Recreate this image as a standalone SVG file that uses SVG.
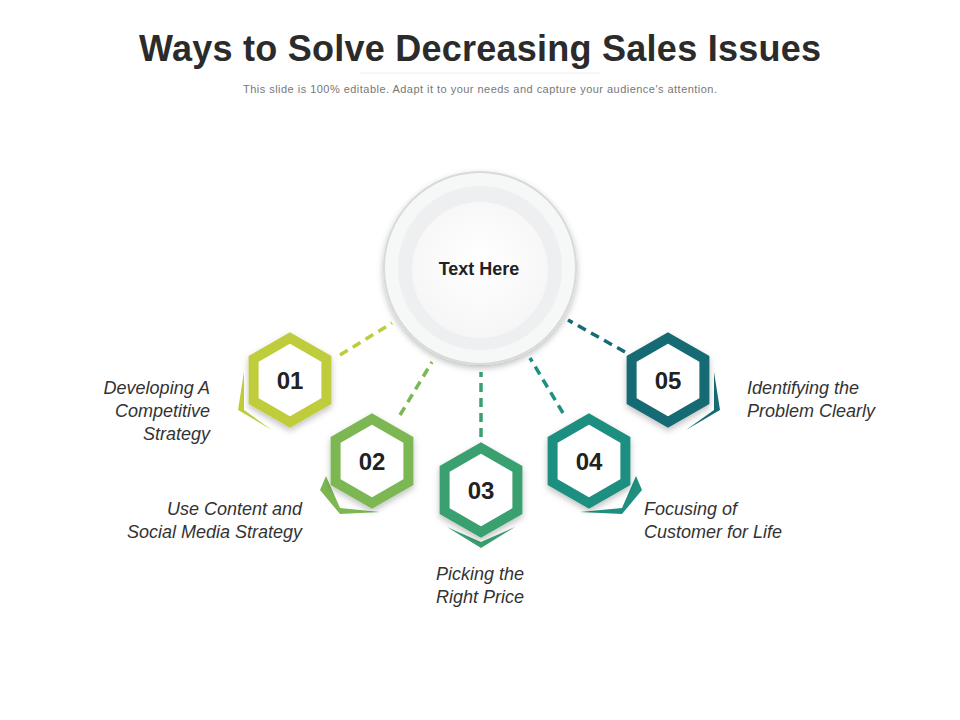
<svg xmlns="http://www.w3.org/2000/svg" width="960" height="720" viewBox="0 0 960 720">
<defs>
<style>
.t{font-family:"Liberation Sans",Arial,sans-serif}
.num{font-family:"Liberation Sans",Arial,sans-serif;font-weight:bold;font-size:24px;fill:#222;text-anchor:middle}
.lab{font-family:"Liberation Sans",Arial,sans-serif;font-style:italic;font-size:18px;fill:#333}
.dash{stroke-width:3.5;stroke-dasharray:9 6;fill:none}
.hex{fill:#fff;stroke-width:10;stroke-linejoin:miter}
</style>
<radialGradient id="cg" cx="0.5" cy="0.45" r="0.55"><stop offset="0" stop-color="#ffffff"/><stop offset="1" stop-color="#f6f6f7"/></radialGradient>
<filter id="sh" x="-30%" y="-30%" width="160%" height="160%"><feDropShadow dx="0" dy="3" stdDeviation="3" flood-opacity="0.25"/></filter>
<polygon id="h" points="0,-42 36.4,-21 36.4,21 0,42 -36.4,21 -36.4,-21"/>
</defs>
<rect width="960" height="720" fill="#fff"/>
<text class="t" x="480" y="61" text-anchor="middle" font-size="36" font-weight="bold" fill="#2b2b2b" textLength="682">Ways to Solve Decreasing Sales Issues</text>
<line x1="360" y1="73" x2="600" y2="73" stroke="#eee" stroke-width="1"/>
<text class="t" x="480" y="93" text-anchor="middle" font-size="11" fill="#777" textLength="474">This slide is 100% editable. Adapt it to your needs and capture your audience's attention.</text>
<g id="connectors">
<line class="dash" x1="340" y1="355" x2="392" y2="323" stroke="#bfcc3a"/>
<line class="dash" x1="400" y1="415" x2="432" y2="362" stroke="#7cb752"/>
<line class="dash" x1="481" y1="437" x2="481" y2="372" stroke="#3aa070"/>
<line class="dash" x1="563" y1="413" x2="530" y2="358" stroke="#1e8f80"/>
<line class="dash" x1="625" y1="352" x2="568" y2="320" stroke="#156a73"/>
</g>
<g id="center">
<circle cx="480" cy="268" r="96" fill="#f6f7f7" stroke="#d8dada" stroke-width="2" filter="url(#sh)"/>
<circle cx="480" cy="268" r="82" fill="#eeeff0"/>
<circle cx="480" cy="270" r="68" fill="url(#cg)"/>
<text class="t" x="479" y="275" text-anchor="middle" font-size="18" font-weight="bold" fill="#222">Text Here</text>
</g>
<g id="n1">
<polygon points="244,372 238,410 272,430 244,410" fill="#bfcc3a"/>
<use href="#h" x="290" y="380" class="hex" stroke="#bfcc3a" filter="url(#sh)"/>
<text class="num" x="290" y="389">01</text>
<text class="lab" x="210" y="394" text-anchor="end">Developing A</text>
<text class="lab" x="210" y="417" text-anchor="end">Competitive</text>
<text class="lab" x="210" y="440" text-anchor="end">Strategy</text>
</g>
<g id="n2">
<polygon points="326,476 320,490 340,514 380,512 340,508" fill="#7cb752"/>
<use href="#h" x="372" y="461" class="hex" stroke="#7cb752" filter="url(#sh)"/>
<text class="num" x="372" y="470">02</text>
<text class="lab" x="302" y="515" text-anchor="end">Use Content and</text>
<text class="lab" x="302" y="538" text-anchor="end">Social Media Strategy</text>
</g>
<g id="n3">
<polygon points="447,527 481,548 515,527 481,542" fill="#3aa070"/>
<use href="#h" x="481" y="490" class="hex" stroke="#3aa070" filter="url(#sh)"/>
<text class="num" x="481" y="499">03</text>
<text class="lab" x="480" y="580" text-anchor="middle">Picking the</text>
<text class="lab" x="480" y="603" text-anchor="middle">Right Price</text>
</g>
<g id="n4">
<polygon points="636,476 642,490 622,514 580,512 622,508" fill="#1e8f80"/>
<use href="#h" x="589" y="461" class="hex" stroke="#1e8f80" filter="url(#sh)"/>
<text class="num" x="589" y="470">04</text>
<text class="lab" x="644" y="515">Focusing of</text>
<text class="lab" x="644" y="538">Customer for Life</text>
</g>
<g id="n5">
<polygon points="714,372 720,410 686,430 714,410" fill="#156a73"/>
<use href="#h" x="668" y="380" class="hex" stroke="#156a73" filter="url(#sh)"/>
<text class="num" x="668" y="389">05</text>
<text class="lab" x="747" y="394">Identifying the</text>
<text class="lab" x="747" y="417">Problem Clearly</text>
</g>
</svg>
